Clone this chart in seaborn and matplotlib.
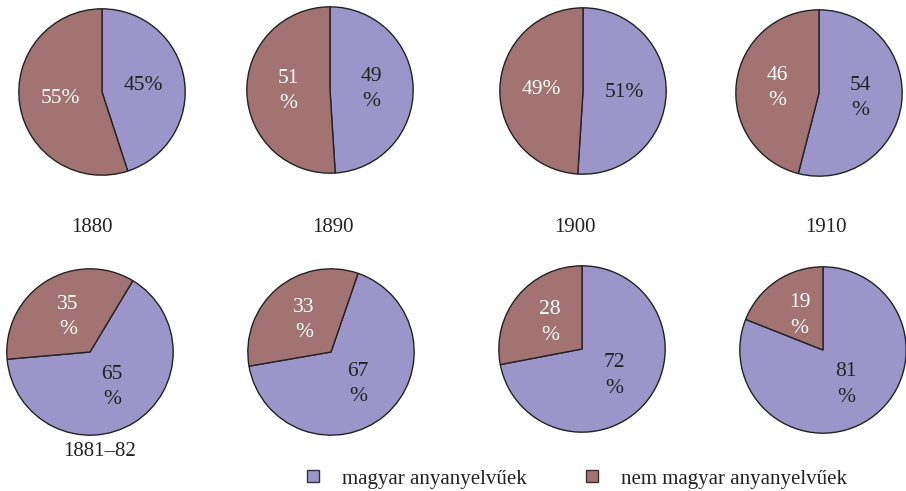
import matplotlib
matplotlib.use("Agg")
import matplotlib.pyplot as plt
import seaborn as sns
from matplotlib.lines import Line2D

# --- DATA ---
years = ["1880", "1890", "1900", "1910", "1881–82", "", "", ""]
magyar = [45, 49, 51, 54, 65, 67, 72, 81]
nem_magyar = [55, 51, 49, 46, 35, 33, 28, 19]
series = ["magyar anyanyelvűek", "nem magyar anyanyelvűek"]

# --- LAYOUT (pixels of the 906x491 image) ---
W, H = 906, 491
R = 84
centers = [(102, 92), (330, 90), (583, 91), (819, 93),
           (90, 352), (331, 352), (582, 349), (823, 350)]
start_angles = [90, 90, 90, 90, 59, 71, 90, 90]
one_line = [True, False, True, False, False, False, False, False]
year_dx = [-10, 3, -8, 7, 10, 0, 0, 0]
year_y = [228, 228, 228, 228, 452, 452, 452, 452]

sns.set_theme(style="white")
plt.rcParams["font.family"] = ["Liberation Serif", "DejaVu Serif"]
colors = ["#9b95c9", "#a37373"]
text_colors = ["#222222", "white"]

fig = plt.figure(figsize=(W / 100, H / 100), dpi=100)

for i in range(len(magyar)):
    cx, cy = centers[i]
    ax = fig.add_axes([(cx - R) / W, 1 - (cy + R) / H, 2 * R / W, 2 * R / H])
    fmt = "{:.0f}%" if one_line[i] else "{:.0f}\n%"
    wedges, texts, autotexts = ax.pie(
        [magyar[i], nem_magyar[i]],
        colors=colors,
        startangle=start_angles[i],
        counterclock=False,
        pctdistance=0.5,
        autopct=lambda p, f=fmt: f.format(p),
        wedgeprops=dict(edgecolor="#222222", linewidth=1),
        textprops=dict(fontsize=15.5, linespacing=1.45),
    )
    for t, c in zip(autotexts, text_colors):
        t.set_color(c)
    ax.set_xlim(-1.01, 1.01)
    ax.set_ylim(-1.01, 1.01)
    if years[i]:
        fig.text((cx + year_dx[i]) / W, 1 - year_y[i] / H, years[i],
                 ha="center", va="center", fontsize=15, color="#222222")

handles = [Line2D([], [], marker="s", linestyle="none", markersize=9,
                  markerfacecolor=c, markeredgecolor="#333333", markeredgewidth=1)
           for c in colors]
fig.legend(handles, series, ncol=2, frameon=False, fontsize=15,
           loc="center", bbox_to_anchor=(577 / W, 1 - 479 / H),
           handlelength=0.6, handletextpad=1.1, columnspacing=2.8,
           labelcolor="#222222")

fig.savefig("out.png", dpi=100)
